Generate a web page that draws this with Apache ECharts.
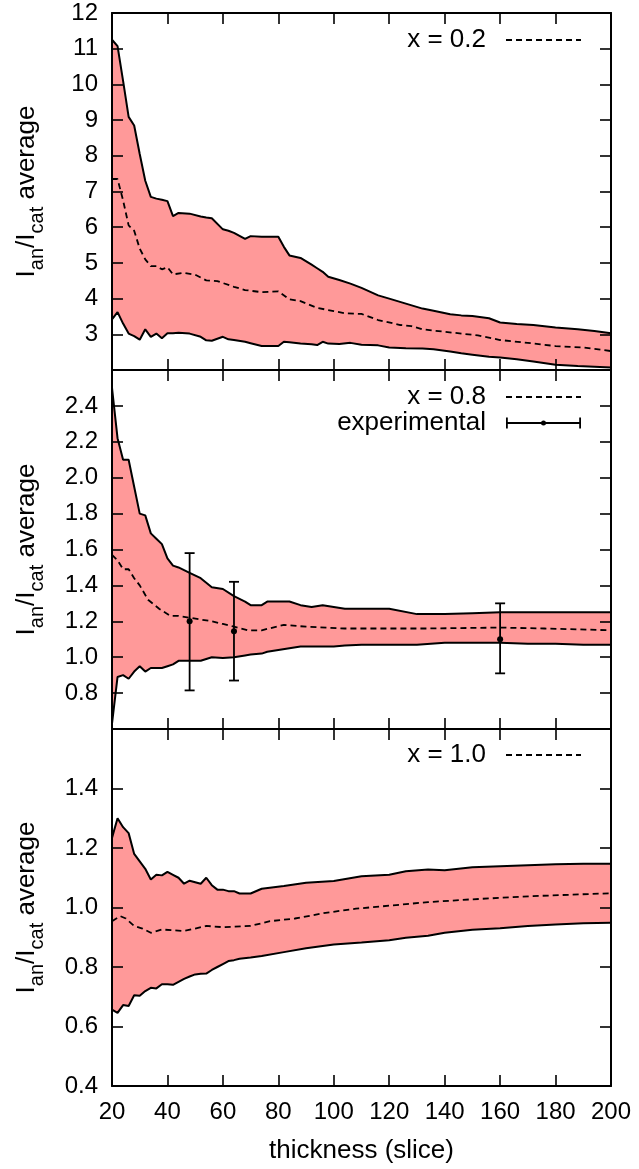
<!DOCTYPE html>
<html>
<head>
<meta charset="utf-8">
<script src="https://cdn.jsdelivr.net/npm/echarts@6/dist/echarts.min.js"></script>
<style>
  html, body { margin: 0; padding: 0; background: #fff; }
  #chart { width: 639px; height: 1169px; }
</style>
</head>
<body>
<div id="chart"></div>
<script>
// panel 1 (x = 0.2)
const thick1 = [20, 22, 24, 26, 28, 30, 32, 34, 36, 38, 40, 42, 44, 48, 52, 54, 56, 60, 62, 64,
  68, 70, 74, 80, 82, 84, 88, 92, 94, 96, 98, 102, 106, 110, 116, 120, 126, 132, 136, 142,
  146, 150, 156, 160, 166, 172, 180, 188, 194, 200];
const upper1 = [11.25, 11.07, 10.1, 9.09, 8.85, 8.05, 7.3, 6.85, 6.8, 6.77, 6.73, 6.31, 6.4, 6.38, 6.3, 6.27, 6.25, 5.94, 5.9, 5.84,
  5.67, 5.75, 5.73, 5.73, 5.45, 5.21, 5.14, 4.95, 4.85, 4.75, 4.61, 4.52, 4.42, 4.3, 4.09, 4.0, 3.86, 3.72, 3.66, 3.56,
  3.53, 3.51, 3.45, 3.33, 3.29, 3.26, 3.19, 3.14, 3.09, 3.03];
const lower1 = [3.42, 3.62, 3.3, 3.02, 2.95, 2.85, 3.14, 2.93, 3.02, 2.89, 3.03, 3.03, 3.04, 3.02, 2.93, 2.83, 2.82, 2.93, 2.86, 2.84,
  2.79, 2.75, 2.67, 2.67, 2.79, 2.78, 2.74, 2.72, 2.70, 2.79, 2.74, 2.73, 2.76, 2.71, 2.69, 2.63, 2.61, 2.60, 2.58, 2.52,
  2.47, 2.43, 2.37, 2.35, 2.30, 2.24, 2.15, 2.11, 2.09, 2.07];
const meanThick1 = [20, 22, 24, 26, 28, 30, 32, 34, 36, 38, 40, 42, 46, 50, 54, 58, 64, 68, 74, 80,
  84, 88, 94, 100, 104, 110, 116, 124, 128, 132, 140, 152, 160, 170, 180, 190, 200];
const mean1 = [7.35, 7.35, 6.75, 6.05, 5.9, 5.4, 5.1, 4.91, 4.91, 4.82, 4.88, 4.68, 4.72, 4.67, 4.51, 4.49, 4.33, 4.24, 4.18, 4.2,
  3.98, 3.93, 3.74, 3.65, 3.59, 3.57, 3.40, 3.26, 3.23, 3.14, 3.07, 2.97, 2.84, 2.76, 2.67, 2.63, 2.53];

// panel 2 (x = 0.8)
const thick2 = [20, 22, 24, 26, 28, 30, 32, 34, 36, 38, 40, 42, 44, 48, 52, 56, 60, 64, 68, 70,
  74, 76, 80, 84, 88, 92, 96, 100, 104, 110, 120, 130, 140, 150, 160, 170, 180, 190, 200];
const upper2 = [2.50, 2.22, 2.10, 2.10, 1.95, 1.80, 1.79, 1.69, 1.66, 1.63, 1.55, 1.51, 1.50, 1.47, 1.44, 1.39, 1.38, 1.34, 1.31, 1.29,
  1.29, 1.31, 1.31, 1.31, 1.29, 1.28, 1.29, 1.28, 1.27, 1.27, 1.27, 1.24, 1.24, 1.245, 1.25, 1.25, 1.25, 1.25, 1.25];
const lower2 = [0.63, 0.89, 0.90, 0.88, 0.92, 0.95, 0.92, 0.94, 0.94, 0.94, 0.95, 0.96, 0.98, 0.98, 0.98, 1.0, 0.995, 1.0, 1.01, 1.015,
  1.02, 1.03, 1.04, 1.05, 1.06, 1.06, 1.06, 1.06, 1.065, 1.07, 1.07, 1.07, 1.08, 1.08, 1.08, 1.075, 1.075, 1.07, 1.07];
const meanThick2 = [20, 22, 24, 26, 28, 30, 33, 37, 41, 44, 48, 56, 60, 64, 69, 74, 82, 90, 104, 120, 134, 160, 176, 200];
const mean2 = [1.57, 1.54, 1.49, 1.49, 1.44, 1.40, 1.32, 1.27, 1.23, 1.23, 1.22, 1.20, 1.185, 1.17, 1.15, 1.15, 1.18, 1.17, 1.16, 1.16,
  1.16, 1.165, 1.16, 1.15];
// experimental: thickness, value, low, high
const expThick = [48, 64, 160];
const expValue = [1.20, 1.145, 1.10];
const expLow = [0.815, 0.87, 0.91];
const expHigh = [1.58, 1.42, 1.30];

// panel 3 (x = 1.0)
const thick3 = [20, 22, 24, 26, 28, 30, 32, 34, 36, 38, 40, 42, 44, 46, 48, 50, 52, 54, 56, 58,
  60, 62, 64, 66, 70, 74, 82, 90, 100, 110, 120, 126, 134, 140, 150, 160, 170, 180, 190, 200];
const upper3 = [1.234, 1.30, 1.27, 1.25, 1.18, 1.155, 1.13, 1.094, 1.11, 1.108, 1.12, 1.11, 1.10, 1.08, 1.09, 1.085, 1.08, 1.10, 1.075, 1.06,
  1.06, 1.055, 1.055, 1.047, 1.047, 1.063, 1.072, 1.083, 1.089, 1.105, 1.11, 1.122, 1.128, 1.125, 1.135, 1.139, 1.142, 1.145, 1.147, 1.147];
const lower3 = [0.657, 0.646, 0.672, 0.669, 0.705, 0.703, 0.719, 0.73, 0.728, 0.742, 0.742, 0.74, 0.75, 0.76, 0.768, 0.775, 0.777, 0.778, 0.79, 0.80,
  0.81, 0.82, 0.823, 0.828, 0.832, 0.837, 0.85, 0.863, 0.876, 0.882, 0.89, 0.898, 0.905, 0.915, 0.925, 0.93, 0.938, 0.943, 0.947, 0.949];
const meanThick3 = [20, 23, 25, 28, 31, 34, 38, 46, 50, 54, 60, 70, 77, 86, 97, 108, 121, 134, 149, 171, 200];
const mean3 = [0.954, 0.971, 0.963, 0.938, 0.929, 0.915, 0.926, 0.921, 0.929, 0.938, 0.934, 0.938, 0.954, 0.963, 0.982, 0.996, 1.007, 1.018, 1.027, 1.038, 1.048];

const xTicks = [20, 200, 20]; // min, max, interval
const yRanges = [[2, 12, 1], [0.6, 2.6, 0.2], [0.4, 1.6, 0.2]];
const legendNames = ['x = 0.2', 'x = 0.8', 'x = 1.0'];

const font = 'Liberation Sans, Arial, Helvetica, sans-serif';
const fill = '#ff9999';
const black = '#000';

const chart = echarts.init(document.getElementById('chart'), null, { renderer: 'canvas' });

const grids = [
  { left: 112, right: 28, top: 13, height: 357 },
  { left: 112, right: 28, top: 370, height: 359 },
  { left: 112, right: 28, top: 729, height: 357 },
];

const zip = (xs, ys) => xs.map((x, i) => [x, ys[i]]);

const xAxis = [];
const yAxis = [];
grids.forEach((g, i) => {
  ['bottom', 'top'].forEach((pos) => {
    const showLabel = i === 2 && pos === 'bottom';
    xAxis.push({
      type: 'value',
      gridIndex: i,
      position: pos,
      min: xTicks[0],
      max: xTicks[1],
      interval: xTicks[2],
      z: 10,
      axisLine: { show: true, lineStyle: { color: black, width: 2 } },
      axisTick: { show: true, inside: true, length: 11, lineStyle: { color: black, width: 1.6 } },
      splitLine: { show: false },
      axisLabel: { show: showLabel, color: black, fontSize: 24, fontFamily: font, margin: 14 },
      name: showLabel ? 'thickness (slice)' : '',
      nameLocation: 'middle',
      nameGap: 52,
      nameTextStyle: { color: black, fontSize: 26, fontFamily: font },
    });
  });
  const r = yRanges[i];
  ['left', 'right'].forEach((pos) => {
    const left = pos === 'left';
    yAxis.push({
      type: 'value',
      gridIndex: i,
      position: pos,
      min: r[0],
      max: r[1],
      interval: r[2],
      z: 10,
      axisLine: { show: true, lineStyle: { color: black, width: 2 } },
      axisTick: { show: true, inside: true, length: 11, lineStyle: { color: black, width: 1.6 } },
      splitLine: { show: false },
      axisLabel: {
        show: left,
        color: black,
        fontSize: 24,
        fontFamily: font,
        margin: 14,
        showMinLabel: i === 2,
        showMaxLabel: i === 0,
        formatter: (v) => (i === 0 ? String(Math.round(v)) : v.toFixed(1)),
      },
      name: left ? '{a|I}{s|an}{a|/I}{s|cat}{a| average}' : '',
      nameLocation: 'middle',
      nameRotate: 90,
      nameGap: 72,
      nameTextStyle: {
        color: black,
        fontFamily: font,
        rich: {
          a: { fontSize: 26, lineHeight: 26, fontFamily: font, color: black, verticalAlign: 'top' },
          s: { fontSize: 20, lineHeight: 20, fontFamily: font, color: black, verticalAlign: 'top', padding: [13, 0, 0, 0] },
        },
      },
    });
  });
});

const panels = [
  { x: thick1, up: upper1, lo: lower1, mx: meanThick1, m: mean1 },
  { x: thick2, up: upper2, lo: lower2, mx: meanThick2, m: mean2 },
  { x: thick3, up: upper3, lo: lower3, mx: meanThick3, m: mean3 },
];

const series = [];
panels.forEach((p, i) => {
  const axes = { xAxisIndex: i * 2, yAxisIndex: i * 2 };
  // filled band between lower and upper, one polygon
  series.push({
    type: 'custom', ...axes, silent: true, z: 1,
    encode: { x: 0, y: [1, 2] },
    data: p.x.map((x, k) => [x, p.lo[k], p.up[k]]),
    renderItem: (params, api) => {
      if (params.dataIndex !== 0) return null;
      const pts = [];
      p.x.forEach((x, k) => pts.push(api.coord([x, p.up[k]])));
      for (let k = p.x.length - 1; k >= 0; k--) pts.push(api.coord([p.x[k], p.lo[k]]));
      return { type: 'polygon', shape: { points: pts }, style: { fill: fill } };
    },
  });
  series.push({
    type: 'line', ...axes, data: zip(p.x, p.up), symbol: 'none', silent: true,
    lineStyle: { color: black, width: 2 }, z: 3,
  });
  series.push({
    type: 'line', ...axes, data: zip(p.x, p.lo), symbol: 'none', silent: true,
    lineStyle: { color: black, width: 2 }, z: 3,
  });
  series.push({
    name: legendNames[i],
    type: 'line', ...axes, data: zip(p.mx, p.m), symbol: 'none', silent: true,
    itemStyle: { color: black },
    lineStyle: { color: black, width: 1.8, type: [6, 4] }, z: 4,
  });
});

series.push({
  name: 'experimental',
  type: 'custom',
  xAxisIndex: 2,
  yAxisIndex: 2,
  z: 5,
  silent: true,
  itemStyle: { color: black },
  encode: { x: 0, y: [1, 2, 3] },
  data: expThick.map((x, i) => [x, expValue[i], expLow[i], expHigh[i]]),
  renderItem: (params, api) => {
    const x = api.value(0);
    const mid = api.coord([x, api.value(1)]);
    const lo = api.coord([x, api.value(2)]);
    const hi = api.coord([x, api.value(3)]);
    const cap = 5;
    const st = { stroke: black, lineWidth: 1.8 };
    return {
      type: 'group',
      children: [
        { type: 'line', shape: { x1: lo[0], y1: lo[1], x2: hi[0], y2: hi[1] }, style: st },
        { type: 'line', shape: { x1: lo[0] - cap, y1: lo[1], x2: lo[0] + cap, y2: lo[1] }, style: st },
        { type: 'line', shape: { x1: hi[0] - cap, y1: hi[1], x2: hi[0] + cap, y2: hi[1] }, style: st },
        { type: 'circle', shape: { cx: mid[0], cy: mid[1], r: 3 }, style: { fill: black } },
      ],
    };
  },
});

const errIcon = 'path://M0,0h1.8v11h-1.8z M73.2,0h1.8v11h-1.8z M0,4.6h75v1.8h-75z M35,5.5a2.5,2.5 0 1,1 5,0a2.5,2.5 0 1,1 -5,0z';
const hideSymbol = { opacity: 0 };

const legendBase = {
  orient: 'vertical',
  right: 57,
  align: 'right',
  padding: 0,
  itemGap: 0,
  itemWidth: 75,
  itemHeight: 11,
  selectedMode: false,
  textStyle: { color: black, fontSize: 26, fontFamily: font, lineHeight: 25, padding: [0, 15, 0, 0] },
};

const option = {
  backgroundColor: '#fff',
  animation: false,
  grid: grids,
  xAxis,
  yAxis,
  legend: [
    { ...legendBase, top: 27, data: [{ name: legendNames[0], itemStyle: hideSymbol }] },
    { ...legendBase, top: 384, data: [{ name: legendNames[1], itemStyle: hideSymbol }, { name: 'experimental', icon: errIcon }] },
    { ...legendBase, top: 742, data: [{ name: legendNames[2], itemStyle: hideSymbol }] },
  ],
  series,
};

chart.setOption(option);
</script>
</body>
</html>
